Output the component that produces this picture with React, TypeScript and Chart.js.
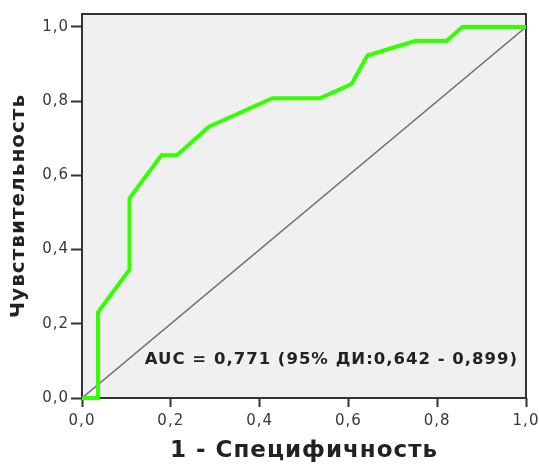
import React, { useEffect, useRef } from "react";
import { Chart, registerables } from "chart.js";

Chart.register(...registerables);

const fprValues = [0, 0.036, 0.036, 0.107, 0.107, 0.179, 0.214, 0.286, 0.429, 0.536, 0.607, 0.643, 0.75, 0.821, 0.857, 1];
const tprValues = [0, 0, 0.231, 0.346, 0.538, 0.654, 0.654, 0.731, 0.808, 0.808, 0.846, 0.923, 0.962, 0.962, 1, 1];
const diagX = [0, 1];
const diagY = [0, 1];
const tickValues = [0, 0.2, 0.4, 0.6, 0.8, 1.0];
const xTitle = "1 - Специфичность";
const yTitle = "Чувствительность";
const aucLabel = "AUC = 0,771 (95% ДИ:0,642 - 0,899)";

const fmt = (v: number) => v.toFixed(1).replace(".", ",");

const plotBg = {
  id: "plotBg",
  beforeDraw(chart: any) {
    const { ctx, chartArea: a } = chart;
    (ctx as any).letterSpacing = "1px";
    ctx.save();
    ctx.fillStyle = "#f0f0f0";
    ctx.fillRect(a.left, a.top, a.right - a.left, a.bottom - a.top);
    ctx.restore();
  },
  beforeDatasetsDraw(chart: any) {
    const { ctx, chartArea: a } = chart;
    ctx.save();
    ctx.strokeStyle = "#333333";
    ctx.lineWidth = 2;
    ctx.strokeRect(a.left, a.top, a.right - a.left, a.bottom - a.top);
    ctx.restore();
  },
  afterDraw(chart: any) {
    const { ctx, chartArea: a } = chart;
    ctx.save();
    (ctx as any).letterSpacing = "1px";
    ctx.font = "bold 16.5px 'DejaVu Sans'";
    ctx.fillStyle = "#222222";
    ctx.textAlign = "right";
    ctx.textBaseline = "middle";
    ctx.fillText(aucLabel, a.right - 8, a.bottom - 38);
    ctx.restore();
  },
};

export default function App() {
  const ref = useRef<HTMLCanvasElement | null>(null);
  useEffect(() => {
    if (!ref.current) return;
    const chart = new Chart(ref.current, {
      type: "scatter",
      data: {
        datasets: [
          {
            data: diagX.map((x, i) => ({ x, y: diagY[i] })),
            showLine: true,
            borderColor: "#707070",
            borderWidth: 1.5,
            pointRadius: 0,
            order: 2,
          },
          {
            data: fprValues.map((x, i) => ({ x, y: tprValues[i] })),
            showLine: true,
            borderColor: "#33ff00",
            borderWidth: 4,
            pointRadius: 0,
            borderJoinStyle: "miter",
            clip: false,
            order: 1,
          },
        ],
      },
      options: {
        animation: false,
        responsive: false,
        layout: { padding: { top: 14, right: 13, left: 0, bottom: 0 } },
        plugins: { legend: { display: false }, tooltip: { enabled: false } },
        scales: {
          x: {
            type: "linear",
            min: 0,
            max: 1,
            grid: { display: true, drawOnChartArea: false, drawTicks: true, tickLength: 9, tickColor: "#333", tickWidth: 2 },
            border: { display: false },
            afterBuildTicks: (s: any) => { s.ticks = tickValues.map((v) => ({ value: v })); },
            afterFit: (s: any) => { s.height = 465 - 398; s.paddingLeft = 0; s.paddingRight = 0; },
            ticks: {
              callback: (v: any) => fmt(Number(v)),
              color: "#383838",
              font: { family: "'DejaVu Sans'", size: 15 },
              padding: 5,
              maxRotation: 0,
            },
            title: {
              display: true,
              text: xTitle,
              color: "#222",
              font: { family: "'DejaVu Sans'", size: 23, weight: "bold" },
              padding: { top: 4, bottom: 0 },
            },
          },
          y: {
            type: "linear",
            min: 0,
            max: 1.035,
            grid: { display: true, drawOnChartArea: false, drawTicks: true, tickLength: 11, tickColor: "#333", tickWidth: 2 },
            border: { display: false },
            afterBuildTicks: (s: any) => { s.ticks = tickValues.map((v) => ({ value: v })); },
            afterFit: (s: any) => { s.width = 82; s.paddingTop = 0; s.paddingBottom = 0; },
            ticks: {
              callback: (v: any) => fmt(Number(v)),
              color: "#383838",
              font: { family: "'DejaVu Sans'", size: 15 },
              padding: 2,
            },
            title: {
              display: true,
              text: yTitle,
              color: "#222",
              font: { family: "'DejaVu Sans'", size: 20, weight: "bold" },
              padding: { top: 7, bottom: 4 },
            },
          },
        },
      },
      plugins: [plotBg],
    });
    return () => chart.destroy();
  }, []);
  return (
    <div style={{ position: "fixed", left: 0, top: 0, width: 539, height: 465, background: "#fff" }}>
      <canvas ref={ref} width={539} height={465} style={{ width: 539, height: 465 }} />
    </div>
  );
}
